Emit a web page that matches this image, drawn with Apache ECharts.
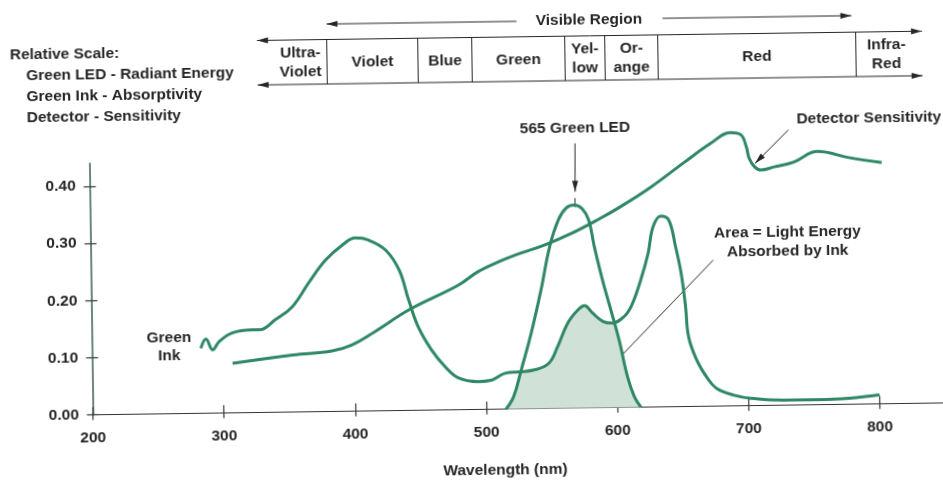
<!DOCTYPE html>
<html>
<head>
<meta charset="utf-8">
<title>565 Green LED - ink absorption</title>
<script src="https://cdn.jsdelivr.net/npm/echarts@6.0.0/dist/echarts.min.js"></script>
<style>
  html, body { margin: 0; padding: 0; background: #fff; overflow: hidden; }
  /* the scan is turned a little, so the chart is too */
  #chart { width: 943px; height: 481px; transform: rotate(-0.8deg); transform-origin: 50% 50%; }
</style>
</head>
<body>
<div id="chart"></div>
<script>
// wavelength (nm) and relative value
const inkNm = [283, 287, 292, 297, 307, 322, 328, 340, 353, 366, 379, 392, 402, 412, 425, 435, 442, 449, 459, 469, 479, 494, 504, 515, 525, 537, 548, 555, 563, 571, 576, 582, 590, 597, 606, 612, 619, 625, 629, 635, 641, 646, 650, 653, 655, 661, 669, 676, 689, 702, 727, 752, 777, 800]
const inkVal = [0.114, 0.130, 0.111, 0.125, 0.140, 0.145, 0.145, 0.162, 0.184, 0.226, 0.265, 0.291, 0.303, 0.299, 0.281, 0.246, 0.193, 0.146, 0.105, 0.076, 0.056, 0.049, 0.051, 0.063, 0.065, 0.068, 0.079, 0.108, 0.149, 0.172, 0.179, 0.166, 0.151, 0.148, 0.159, 0.179, 0.222, 0.269, 0.315, 0.334, 0.327, 0.280, 0.233, 0.175, 0.122, 0.081, 0.049, 0.031, 0.019, 0.013, 0.009, 0.009, 0.011, 0.016]

const ledNm = [515, 521, 527, 535, 543, 550, 557, 563, 569, 575, 580, 584, 590, 596, 602, 608, 613, 618]
const ledVal = [0, 0.022, 0.068, 0.132, 0.208, 0.283, 0.330, 0.350, 0.355, 0.349, 0.329, 0.283, 0.223, 0.171, 0.118, 0.054, 0.019, 0]

const detNm = [307, 353, 383, 398, 416, 442, 480, 495, 511, 526, 546, 567, 587, 605, 628, 654, 674, 689, 697, 701, 703, 707, 712, 722, 737, 755, 780, 804]
const detVal = [0.087, 0.100, 0.106, 0.116, 0.139, 0.176, 0.218, 0.241, 0.258, 0.271, 0.286, 0.306, 0.329, 0.352, 0.385, 0.428, 0.460, 0.478, 0.474, 0.453, 0.433, 0.418, 0.412, 0.417, 0.425, 0.443, 0.431, 0.422]

// shaded part: under both the LED and the ink curve
const areaNm = [515, 521, 526.5, 537, 548, 555, 563, 571, 576, 582, 590, 597, 599, 602, 608, 613, 618]
const areaVal = [0, 0.022, 0.064, 0.068, 0.079, 0.108, 0.149, 0.172, 0.179, 0.166, 0.151, 0.148, 0.147, 0.118, 0.054, 0.019, 0]

const xTicks = [200, 300, 400, 500, 600, 700, 800]
const yTicks = [0, 0.1, 0.2, 0.3, 0.4]

const bandNames = ['Ultra-\nViolet', 'Violet', 'Blue', 'Green', 'Yel-\nlow', 'Or-\nange', 'Red', 'Infra-\nRed']

const GREEN = '#2e8765'
const INK = '#262626'
const FONT = '"Liberation Sans", Arial, sans-serif'
const FONT_SIZE = 15.5

function pairs(xs, ys) {
  return xs.map((x, i) => [x, ys[i]])
}

function text(x, y, str, align) {
  return {
    type: 'text',
    x: x,
    y: y,
    style: {
      text: str,
      fill: INK,
      fontFamily: FONT,
      fontSize: FONT_SIZE,
      fontWeight: 'bold',
      lineHeight: 18.5,
      align: align || 'center',
      verticalAlign: 'middle',
      textAlign: align || 'center',
      textVerticalAlign: 'middle'
    }
  }
}

function line(x1, y1, x2, y2, w) {
  return { type: 'line', shape: { x1, y1, x2, y2 }, style: { stroke: INK, lineWidth: w || 1 } }
}

// head drawn at (x2, y2), and at (x1, y1) too when both is set
function arrow(x1, y1, x2, y2, both) {
  const d = Math.hypot(x2 - x1, y2 - y1)
  const ux = (x2 - x1) / d
  const uy = (y2 - y1) / d
  const head = (x, y, dx, dy) => {
    const bx = x - dx * 11
    const by = y - dy * 11
    return {
      type: 'polygon',
      shape: { points: [[x, y], [bx - dy * 3, by + dx * 3], [bx + dy * 3, by - dx * 3]] },
      style: { fill: INK }
    }
  }
  const out = [line(x1, y1, x2, y2, 1), head(x2, y2, ux, uy)]
  if (both) out.push(head(x1, y1, -ux, -uy))
  return out
}

// spectrum band at the top
const bandTop = 37.5
const bandBottom = 82
const dividers = [329.5, 420.5, 474.5, 567.5, 607.5, 660.5, 858.5]
const bandCenters = [303, 375, 447.5, 521, 587.5, 634, 759.5, 889]

let graphics = []
graphics = graphics.concat(arrow(259.8, bandTop, 924.9, bandTop, true))
graphics = graphics.concat(arrow(259.8, bandBottom, 924.9, bandBottom, true))
dividers.forEach((x) => graphics.push(line(x, bandTop, x, bandBottom, 1)))
bandNames.forEach((n, i) => graphics.push(text(bandCenters[i], (bandTop + bandBottom) / 2 + 0.5, n)))

graphics.push(text(592, 21.5, 'Visible Region'))
graphics = graphics.concat(arrow(519.5, 22, 329.5, 22))
graphics = graphics.concat(arrow(665.5, 21, 854.5, 21))

// relative scale note
graphics.push(text(12.5, 48.5, 'Relative Scale:', 'left'))
graphics.push(text(28.5, 69.5, 'Green LED - Radiant Energy', 'left'))
graphics.push(text(28.5, 90.5, 'Green Ink - Absorptivity', 'left'))
graphics.push(text(28.5, 111.5, 'Detector - Sensitivity', 'left'))

// callouts
graphics.push(text(576.5, 129.8, '565 Green LED'))
graphics = graphics.concat(arrow(576.3, 144.8, 575.8, 193.2))
graphics.push(line(575.6, 199.5, 575.5, 208.5, 1))

graphics.push(text(870.5, 123.6, 'Detector Sensitivity'))
graphics = graphics.concat(arrow(789.8, 134.4, 756.1, 167.3))

graphics.push(text(787.5, 246.1, 'Area = Light Energy\nAbsorbed by Ink'))
graphics = graphics.concat(arrow(713, 263.4, 604.2, 373.6))

graphics.push(text(167.6, 342.8, 'Green\nInk'))
graphics.push(text(502.3, 470.5, 'Wavelength (nm)'))

const labelStyle = {
  fontFamily: FONT,
  fontSize: FONT_SIZE,
  fontWeight: 'bold',
  color: INK
}

const chart = echarts.init(document.getElementById('chart'))
chart.setOption({
  animation: false,
  backgroundColor: '#fff',
  grid: { left: 90.5, right: -3.5, top: 158, bottom: 71.3 },
  xAxis: [
    {
      type: 'value',
      min: 200,
      max: 850,
      interval: 100,
      axisLine: { show: true, lineStyle: { color: '#333', width: 1.2 } },
      axisTick: { show: true, length: 5, customValues: xTicks, lineStyle: { color: '#333', width: 1.2 } },
      axisLabel: Object.assign({ customValues: xTicks, margin: 15 }, labelStyle),
      splitLine: { show: false }
    },
    {
      type: 'value',
      min: 200,
      max: 850,
      interval: 100,
      position: 'bottom',
      axisLine: { show: false },
      axisTick: { show: true, inside: true, length: 8, customValues: xTicks, lineStyle: { color: '#333', width: 1.2 } },
      axisLabel: { show: false },
      splitLine: { show: false }
    }
  ],
  yAxis: [
    {
      type: 'value',
      min: 0,
      max: 0.44,
      interval: 0.1,
      axisLine: { show: true, onZero: false, lineStyle: { color: '#3d5f55', width: 1.5 } },
      axisTick: { show: true, length: 6, customValues: yTicks, lineStyle: { color: '#333', width: 1.2 } },
      axisLabel: Object.assign({
        customValues: yTicks,
        margin: 14,
        formatter: (v) => v.toFixed(2)
      }, labelStyle),
      splitLine: { show: false }
    },
    {
      type: 'value',
      min: 0,
      max: 0.44,
      interval: 0.1,
      position: 'left',
      axisLine: { show: false },
      axisTick: { show: true, inside: true, length: 6, customValues: yTicks, lineStyle: { color: '#333', width: 1.2 } },
      axisLabel: { show: false },
      splitLine: { show: false }
    }
  ],
  series: [
    {
      name: 'Absorbed',
      type: 'line',
      data: pairs(areaNm, areaVal),
      smooth: 0.4,
      symbol: 'none',
      lineStyle: { width: 0 },
      areaStyle: { color: '#d0e2d8', opacity: 1 },
      z: 1
    },
    {
      name: 'Green Ink',
      type: 'line',
      data: pairs(inkNm, inkVal),
      smooth: 0.4,
      symbol: 'none',
      clip: false,
      lineStyle: { color: GREEN, width: 3 },
      z: 3
    },
    {
      name: '565 Green LED',
      type: 'line',
      data: pairs(ledNm, ledVal),
      smooth: 0.4,
      symbol: 'none',
      clip: false,
      lineStyle: { color: GREEN, width: 3 },
      z: 3
    },
    {
      name: 'Detector Sensitivity',
      type: 'line',
      data: pairs(detNm, detVal),
      smooth: 0.4,
      symbol: 'none',
      clip: false,
      lineStyle: { color: GREEN, width: 3 },
      z: 3
    }
  ],
  graphic: graphics
})
</script>
</body>
</html>
